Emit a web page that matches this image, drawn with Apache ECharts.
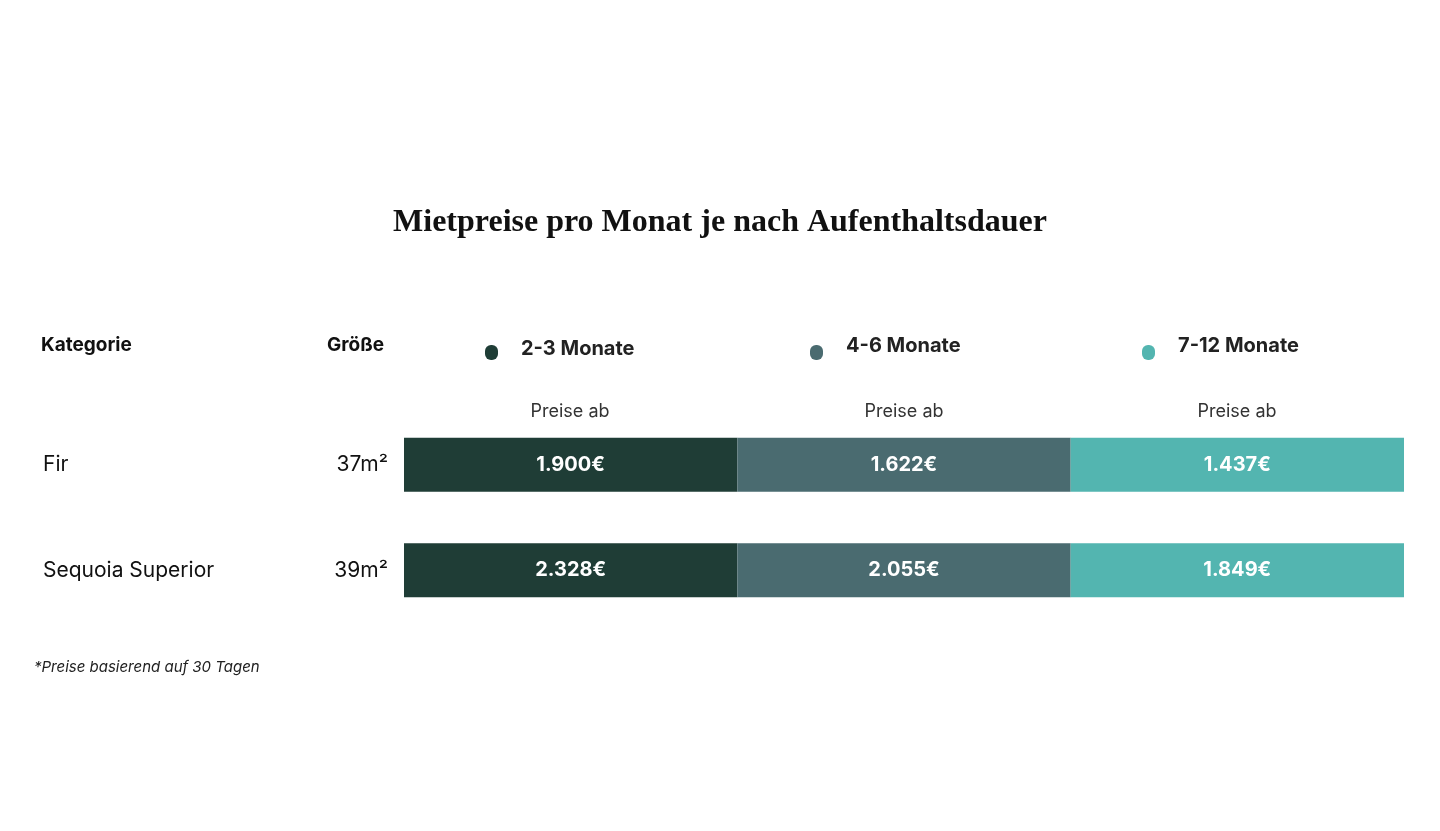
<!DOCTYPE html>
<html><head><meta charset="utf-8">
<script src="https://cdn.jsdelivr.net/npm/echarts@6/dist/echarts.min.js"></script>
<style>html,body{margin:0;background:#fff}#c{width:1440px;height:831px}</style>
</head><body><div id="c"></div>
<script>
const categories = ['Fir', 'Sequoia Superior'];
const sizes = ['37m²', '39m²'];
const seriesNames = ['2-3 Monate', '4-6 Monate', '7-12 Monate'];
const prices = [
  ['1.900€', '2.328€'],
  ['1.622€', '2.055€'],
  ['1.437€', '1.849€']
];
const segment = [1, 1];
const colors = ['#1f3d36', '#4a6b70', '#53b5b0'];
const font = 'Inter, "Open Sans", sans-serif';
const chart = echarts.init(document.getElementById('c'));
const legendX = [491, 816, 1148];
const preiseX = [570, 904, 1237];
const graphic = [
  {type:'text', left:'center', top:207, style:{text:'Mietpreise pro Monat je nach Aufenthaltsdauer', font:'bold 32px "Liberation Serif", "DejaVu Serif", serif', fill:'#111'}},
  {type:'text', left:41, top:336, style:{text:'Kategorie', font:'bold 19px '+font, fill:'#111'}},
  {type:'text', left:327, top:336, style:{text:'Größe', font:'bold 19px '+font, fill:'#111'}},
  {type:'text', left:34, top:660, style:{text:'*Preise basierend auf 30 Tagen', font:'italic 15px '+font, fill:'#222'}}
];
seriesNames.forEach((n,i)=>{
  graphic.push({type:'rect', shape:{x:legendX[i]-6, y:345, width:13, height:15, r:6}, style:{fill:colors[i]}});
  graphic.push({type:'text', x:legendX[i]+30, y:(i===0?339:336), style:{text:n, font:'bold 20px '+font, fill:'#222'}});
  graphic.push({type:'text', x:preiseX[i], y:403, style:{text:'Preise ab', font:'18px '+font, fill:'#333', textAlign:'center'}});
});
chart.setOption({
  animation:false,
  graphic,
  grid:{left:404, right:36, top:412, bottom:208},
  xAxis:{type:'value', min:0, max:3, show:false},
  yAxis:{type:'category', inverse:true, data:categories,
    axisLine:{show:false}, axisTick:{show:false},
    axisLabel:{margin:16, formatter:(v,idx)=>'{a|'+v+'}{b|'+sizes[idx]+'}',
      rich:{a:{width:290, align:'left', fontSize:21, fontFamily:font, color:'#111'},
            b:{width:55, align:'right', fontSize:21, fontFamily:font, color:'#111'}}}},
  series: seriesNames.map((n,i)=>({
    name:n, type:'bar', stack:'t', barWidth:54,
    itemStyle:{color:colors[i]},
    data: segment.map((v,j)=>({value:v, price:prices[i][j]})),
    label:{show:true, position:'inside', formatter:p=>p.data.price, color:'#fff', fontWeight:'bold', fontSize:20, fontFamily:font}
  }))
});
</script></body></html>
